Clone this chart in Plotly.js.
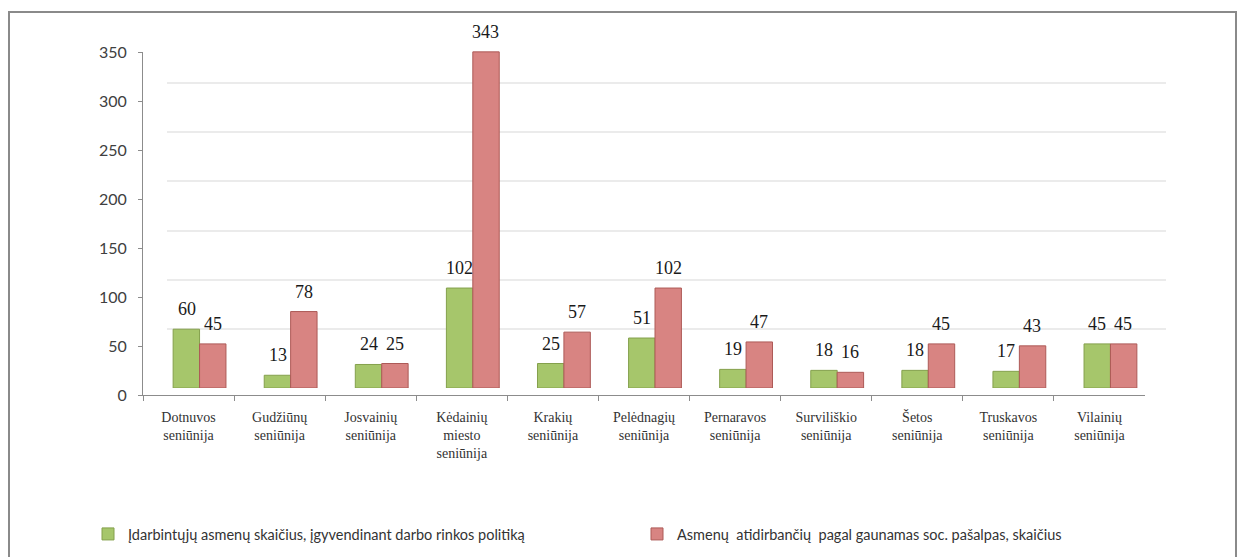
<!DOCTYPE html>
<html>
<head>
<meta charset="utf-8">
<script src="https://cdn.plot.ly/plotly-3.0.1.min.js"></script>
<style>html,body{margin:0;padding:0;background:#fff;}#chart{width:1240px;height:557px;}</style>
</head>
<body>
<div id="chart"></div>
<script>
const categories = ["Dotnuvos seniūnija","Gudžiūnų seniūnija","Josvainių seniūnija","Kėdainių miesto seniūnija","Krakių seniūnija","Pelėdnagių seniūnija","Pernaravos seniūnija","Surviliškio seniūnija","Šetos seniūnija","Truskavos seniūnija","Vilainių seniūnija"];
const tickLabels = ["Dotnuvos<br>seniūnija","Gudžiūnų<br>seniūnija","Josvainių<br>seniūnija","Kėdainių<br>miesto<br>seniūnija","Krakių<br>seniūnija","Pelėdnagių<br>seniūnija","Pernaravos<br>seniūnija","Surviliškio<br>seniūnija","Šetos<br>seniūnija","Truskavos<br>seniūnija","Vilainių<br>seniūnija"];
const employed = [60,13,24,102,25,51,19,18,18,17,45];
const workingOff = [45,78,25,343,57,102,47,16,45,43,45];
const seriesNames = ["Įdarbintųjų asmenų skaičius, įgyvendinant darbo rinkos politiką","Asmenų  atidirbančių  pagal gaunamas soc. pašalpas, skaičius"];
const yTicks = [0,50,100,150,200,250,300,350];

const W = 1240, H = 557;
const px = v => v / W;
const py = v => 1 - v / H;
const SERIF = 'Liberation Serif';
const SANS = 'Lato';

const traces = [
  {type:'scatter', x:categories, y:categories.map(()=>null), xaxis:'x', yaxis:'y', mode:'markers', showlegend:false, hoverinfo:'skip'},
  {type:'scatter', x:categories, y:categories.map(()=>null), xaxis:'x2', yaxis:'y2', mode:'markers', showlegend:false, hoverinfo:'skip'},
  {type:'bar', name:seriesNames[0], x:categories, y:employed, xaxis:'x3', yaxis:'y3',
   marker:{color:'#a6c66b', line:{color:'#84a04c', width:1}}},
  {type:'bar', name:seriesNames[1], x:categories, y:workingOff, xaxis:'x3', yaxis:'y3',
   marker:{color:'#d88482', line:{color:'#ad5a57', width:1}}}
];

const annotations = [];
const valFont = {family:SERIF, size:18, color:'#1a1a1a'};
categories.forEach((c,i)=>{
  annotations.push({x:c, y:employed[i], xref:'x3', yref:'y3', text:String(employed[i]), showarrow:false, xshift:-13, yshift:8, yanchor:'bottom', font:valFont});
  annotations.push({x:c, y:workingOff[i], xref:'x3', yref:'y3', text:String(workingOff[i]), showarrow:false, xshift:13, yshift:8, yanchor:'bottom', font:valFont});
});

const hidden = {showgrid:false, showline:false, zeroline:false, showticklabels:false, ticks:'', fixedrange:true};

const layout = {
  width:W, height:H,
  margin:{l:0, r:0, t:0, b:0},
  paper_bgcolor:'#ffffff', plot_bgcolor:'rgba(0,0,0,0)',
  barmode:'group', bargap:0.42, bargroupgap:0,
  showlegend:true,
  xaxis: Object.assign({}, hidden, {domain:[px(167), px(1166)], type:'category', range:[-0.5,10.5], anchor:'y'}),
  yaxis: Object.assign({}, hidden, {domain:[py(378), py(34)], range:[0,350], tickvals:yTicks, showgrid:true, gridcolor:'#ebebeb', gridwidth:2, anchor:'x'}),
  xaxis2: {domain:[px(143), px(1145)], anchor:'y2', type:'category', range:[-0.5,10.5],
    showline:true, linecolor:'#8c8c8c', linewidth:1, ticks:'outside', tickson:'boundaries', ticklen:5, tickcolor:'#8c8c8c',
    showgrid:false, zeroline:false, tickvals:categories, ticktext:tickLabels, ticklabelstandoff:9,
    tickfont:{family:SERIF, size:14, color:'#333333'}, fixedrange:true},
  yaxis2: {domain:[py(395), py(52)], anchor:'x2', range:[0,350], tickvals:yTicks,
    showline:true, linecolor:'#8c8c8c', linewidth:1, ticks:'outside', ticklen:4, tickcolor:'#8c8c8c',
    showgrid:false, zeroline:false, ticklabelstandoff:8,
    tickfont:{family:SANS, size:16, color:'#404040'}, fixedrange:true},
  xaxis3: Object.assign({}, hidden, {domain:[px(154), px(1156)], type:'category', range:[-0.5,10.5], anchor:'y3'}),
  yaxis3: Object.assign({}, hidden, {domain:[py(388), py(45)], range:[0,350], anchor:'x3'}),
  legend:{orientation:'h', x:px(88), xanchor:'left', y:py(534), yanchor:'middle',
    font:{family:SANS, size:14.5, color:'#333333'},
    itemwidth:30, entrywidth:504, bgcolor:'rgba(0,0,0,0)', traceorder:'normal'},
  annotations: annotations,
  shapes:[{type:'rect', xref:'paper', yref:'paper', x0:px(9), x1:px(1236), y0:-0.2, y1:py(12),
    line:{color:'#8a8a8a', width:2}, fillcolor:'rgba(0,0,0,0)', layer:'below'}]
};

Plotly.newPlot('chart', traces, layout, {displayModeBar:false, staticPlot:true});
</script>
</body>
</html>
